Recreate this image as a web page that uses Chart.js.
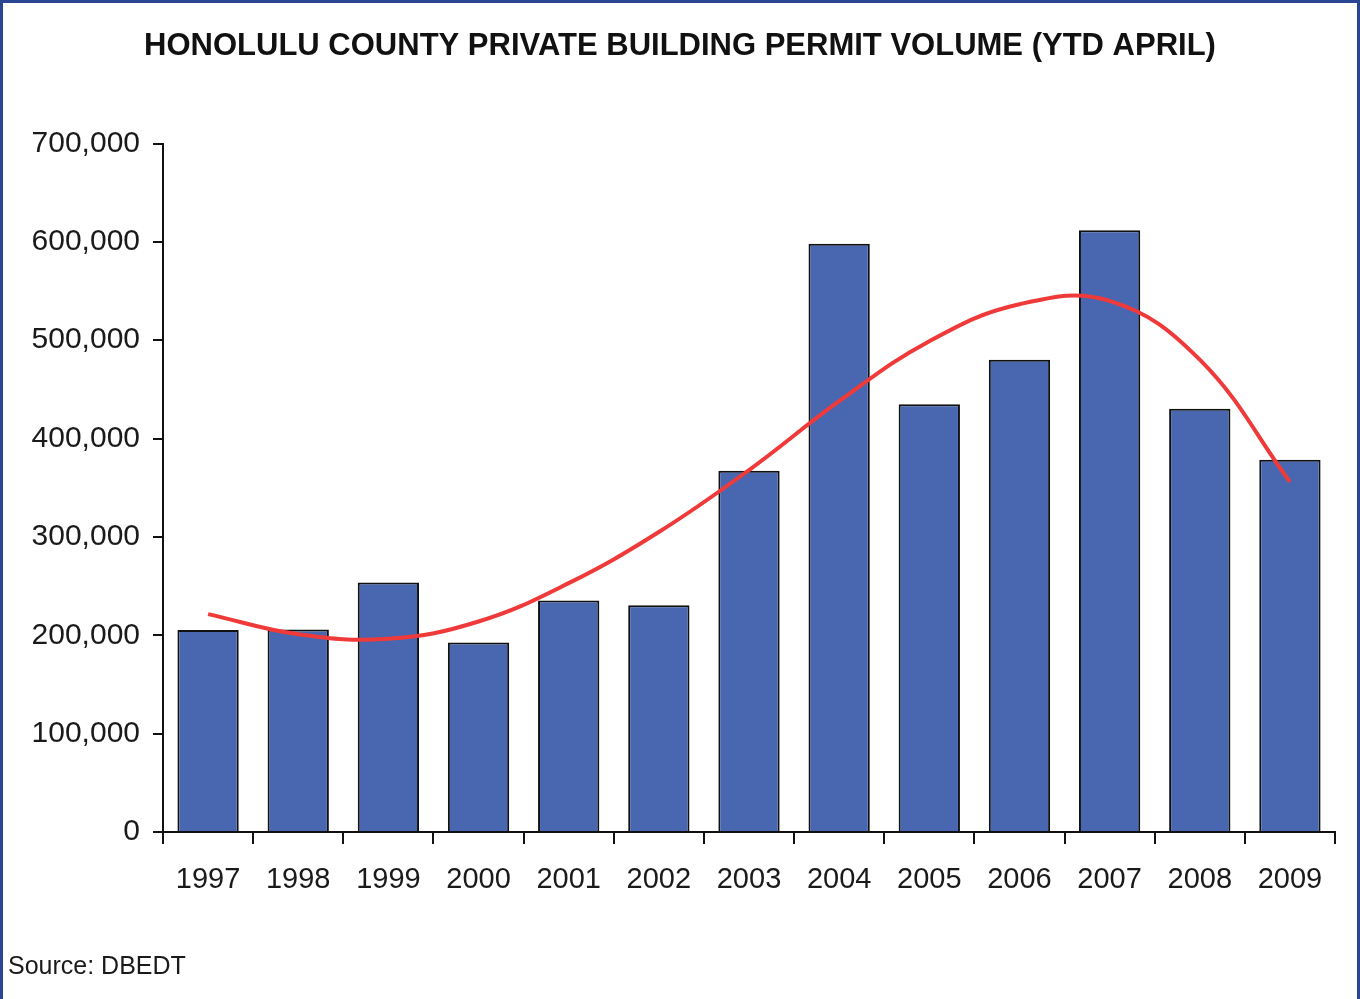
<!DOCTYPE html>
<html>
<head>
<meta charset="utf-8">
<script src="https://cdn.jsdelivr.net/npm/chart.js@4/dist/chart.umd.min.js"></script>
<style>
  html, body { margin: 0; padding: 0; background: #ffffff; }
  #wrap { position: relative; width: 1360px; height: 999px; overflow: hidden; background: #fff; }
  #c { position: absolute; left: 0; top: 0; }
  #frame { position: absolute; left: 0; top: 0; width: 1360px; height: 999px; box-sizing: border-box;
           border-top: 3px solid #2a4592; border-left: 3px solid #2a4592; border-right: 3px solid #2a4592;
           pointer-events: none; }
  #source { position: absolute; left: 8px; top: 950px; font-family: Arial, "Liberation Sans", sans-serif;
            font-size: 25px; color: #1a1a1a; line-height: 30px; }
</style>
</head>
<body>
<div id="wrap">
  <canvas id="c" width="1360" height="999"></canvas>
  <div id="frame"></div>
  <div id="source">Source: DBEDT</div>
</div>
<script>
const titleText = "HONOLULU COUNTY PRIVATE BUILDING PERMIT VOLUME (YTD APRIL)";
const years = ["1997","1998","1999","2000","2001","2002","2003","2004","2005","2006","2007","2008","2009"];
const permitVolume = [205500, 206000, 253600, 192600, 235300, 230600, 367300, 598200, 434800, 480200, 611700, 430400, 378500];
const trendValues = [221500, 201000, 196400, 214000, 253000, 305000, 368000, 438000, 499000, 536600, 540000, 480200, 356000];
const yTickMin = 0;
const yTickMax = 700000;
const yTickStep = 100000;

const FONT = 'Arial, "Liberation Sans", sans-serif';

new Chart(document.getElementById('c'), {
  type: 'bar',
  data: {
    labels: years,
    datasets: [
      {
        type: 'line',
        label: 'Trend',
        data: trendValues,
        borderColor: '#f03a3a',
        borderWidth: 4,
        pointRadius: 0,
        tension: 0.4,
        fill: false,
        order: 0
      },
      {
        type: 'bar',
        label: 'Permit volume',
        data: permitVolume,
        backgroundColor: '#4967b1',
        borderColor: '#111111',
        borderWidth: 2,
        barPercentage: 0.68,
        categoryPercentage: 1.0,
        order: 1
      }
    ]
  },
  options: {
    responsive: false,
    animation: false,
    layout: { padding: { left: 25, right: 25, top: 0, bottom: 103 } },
    plugins: {
      legend: { display: false },
      tooltip: { enabled: false },
      title: {
        display: true,
        text: titleText,
        color: '#111111',
        font: { family: FONT, size: 31, weight: 'bold', lineHeight: 1.2 },
        padding: { top: 27.5, bottom: 78.8 }
      }
    },
    scales: {
      x: {
        grid: { display: true, drawOnChartArea: false, drawTicks: true, tickLength: 12, color: '#111111', lineWidth: 2, offset: true },
        border: { display: true, color: '#111111', width: 2 },
        ticks: { color: '#1a1a1a', font: { family: FONT, size: 29, lineHeight: 1.2 }, padding: 19, maxRotation: 0, autoSkip: false },
        afterFit: (s) => { s.height = 64; }
      },
      y: {
        min: yTickMin,
        max: yTickMax,
        grid: { display: true, drawOnChartArea: false, drawTicks: true, tickLength: 10, color: '#111111', lineWidth: 2 },
        border: { display: true, color: '#111111', width: 2 },
        ticks: {
          stepSize: yTickStep,
          color: '#1a1a1a',
          font: { family: FONT, size: 30 },
          padding: 13,
          callback: (v) => Number(v).toLocaleString('en-US')
        },
        afterFit: (s) => { s.width = 138; }
      }
    }
  }
});
</script>
</body>
</html>
